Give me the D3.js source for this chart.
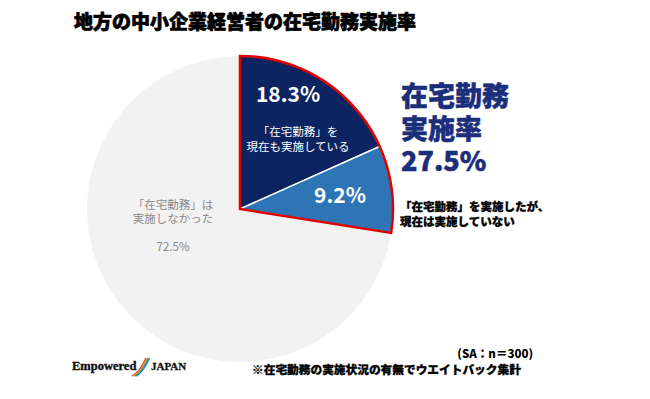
<!DOCTYPE html>
<html>
<head>
<meta charset="utf-8">
<script src="https://cdn.jsdelivr.net/npm/d3@7"></script>
<style>
  body { margin: 0; background: #fff; }
  text { font-family: "Noto Sans CJK JP", sans-serif; }
</style>
</head>
<body>
<div id="chart"></div>
<script>
const width = 650,
    height = 399
const categories = ['現在も実施', '実施したが現在はしていない', '実施しなかった']
const values = [18.3, 9.2, 72.5]
const colors = ['#0c2461', '#2e75b6', '#f2f2f2']
const totalRate = '27.5%'

const svg = d3.select('#chart')
    .append('svg')
    .attr('width', width)
    .attr('height', height)

svg.append('rect').attr('width', width).attr('height', height).attr('fill', '#fff')

// タイトル
svg.append('text')
    .attr('x', 245)
    .attr('y', 29)
    .attr('text-anchor', 'middle')
    .attr('font-size', 19)
    .attr('font-weight', 900)
    .attr('fill', '#000')
    .attr('stroke', '#000')
    .attr('stroke-width', 0.7)
    .text('地方の中小企業経営者の在宅勤務実施率')

const cx = 240, cy = 209, r = 153

const pie = d3.pie().sort(null).value(d => d)
const arcs = pie(values)
const arc = d3.arc().innerRadius(0).outerRadius(r)

const g = svg.append('g').attr('transform', 'translate(' + cx + ',' + cy + ')')

g.selectAll('path.slice')
    .data(arcs)
    .enter().append('path')
    .attr('class', 'slice')
    .attr('d', arc)
    .attr('fill', (d, i) => colors[i])
    .attr('stroke', (d, i) => i < 2 ? '#fff' : 'none')
    .attr('stroke-width', 1.5)

// 実施率の外枠
g.append('path')
    .attr('d', arc({startAngle: arcs[0].startAngle, endAngle: arcs[1].endAngle}))
    .attr('fill', 'none')
    .attr('stroke', '#e00000')
    .attr('stroke-width', 2.5)

// スライスのラベル
svg.append('text')
    .attr('x', 288).attr('y', 102)
    .attr('text-anchor', 'middle')
    .attr('font-size', 21)
    .attr('font-weight', 700)
    .attr('fill', '#fff')
    .text(values[0].toFixed(1) + '%')

const inLabel = ['「在宅勤務」を', '現在も実施している']
inLabel.forEach(function (t, i) {
    svg.append('text')
        .attr('x', 298).attr('y', 136 + i * 15)
        .attr('text-anchor', 'middle')
        .attr('font-size', 11.5)
        .attr('fill', '#fff')
        .text(t)
})

svg.append('text')
    .attr('x', 340).attr('y', 203)
    .attr('text-anchor', 'middle')
    .attr('font-size', 21)
    .attr('font-weight', 700)
    .attr('fill', '#fff')
    .text(values[1].toFixed(1) + '%')

const noLabel = ['「在宅勤務」は', '実施しなかった']
noLabel.forEach(function (t, i) {
    svg.append('text')
        .attr('x', 173).attr('y', 209 + i * 13.5)
        .attr('text-anchor', 'middle')
        .attr('font-size', 11.5)
        .attr('fill', '#8a8a8a')
        .text(t)
})

svg.append('text')
    .attr('x', 173).attr('y', 251)
    .attr('text-anchor', 'middle')
    .attr('font-size', 11.5)
    .attr('fill', '#8a8a8a')
    .text(values[2].toFixed(1) + '%')

// 在宅勤務実施率
const bigLabel = ['在宅勤務', '実施率', totalRate]
bigLabel.forEach(function (t, i) {
    svg.append('text')
        .attr('x', 401).attr('y', 106 + i * 32.5)
        .attr('font-size', 27)
        .attr('font-weight', 900)
        .attr('fill', '#1a2e7a')
        .attr('stroke', '#1a2e7a')
        .attr('stroke-width', 0.5)
        .text(t)
})

const outLabel = ['「在宅勤務」を実施したが、', '現在は実施していない']
outLabel.forEach(function (t, i) {
    svg.append('text')
        .attr('x', 400).attr('y', 211 + i * 15)
        .attr('font-size', 11.5)
        .attr('font-weight', 900)
        .attr('fill', '#000')
        .attr('stroke', '#000')
        .attr('stroke-width', 0.3)
        .text(t)
})

// 注記
svg.append('text')
    .attr('x', 533).attr('y', 358)
    .attr('text-anchor', 'end')
    .attr('font-size', 11.5)
    .attr('font-weight', 900)
    .attr('fill', '#000')
    .text('(SA：n＝300)')

svg.append('text')
    .attr('x', 252).attr('y', 374)
    .attr('font-size', 11.7)
    .attr('font-weight', 900)
    .attr('fill', '#000')
    .attr('stroke', '#000')
    .attr('stroke-width', 0.3)
    .text('※在宅勤務の実施状況の有無でウエイトバック集計')

// ロゴ
const logo = svg.append('g').attr('transform', 'translate(72,370)')
logo.append('text')
    .attr('x', 0).attr('y', 0)
    .style('font-family', '"Liberation Serif", serif')
    .attr('font-size', 12.5)
    .attr('font-weight', 700)
    .attr('fill', '#111')
    .attr('stroke', '#111')
    .attr('stroke-width', 0.4)
    .text('Empowered')
const swoosh = ['#e53935', '#f9a825', '#43a047', '#1e88e5']
swoosh.forEach(function (c, i) {
    logo.append('path')
        .attr('d', 'M' + (60 + i * 1.5) + ',6 Q' + (68 + i) + ',2 ' + (74 + i * 1.2) + ',-12')
        .attr('fill', 'none')
        .attr('stroke', c)
        .attr('stroke-width', 1.5)
})
logo.append('text')
    .attr('x', 79).attr('y', 0)
    .style('font-family', '"Liberation Serif", serif')
    .attr('font-size', 11)
    .attr('font-weight', 700)
    .attr('fill', '#111')
    .attr('stroke', '#111')
    .attr('stroke-width', 0.3)
    .text('JAPAN')
</script>
</body>
</html>
